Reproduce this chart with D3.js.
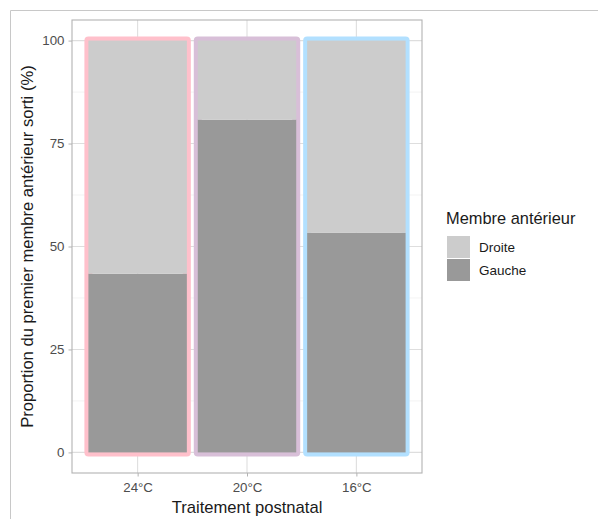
<!DOCTYPE html>
<html><head><meta charset="utf-8">
<script src="https://cdn.jsdelivr.net/npm/d3@7"></script>
<style>body{margin:0;background:#fff}svg{display:block;font-family:"Liberation Sans",Arial,sans-serif}</style>
</head><body><svg id="c" width="598" height="519"></svg>
<script>
const categories = ["24°C", "20°C", "16°C"];
const gauche = [43.4, 80.8, 53.3];
const droite = [56.6, 19.2, 46.7];
const outlineColors = ["#FFC0CB", "#D8BFD8", "#B2E0FF"];
const yTicks = [0, 25, 50, 75, 100];
const yMinor = [12.5, 37.5, 62.5, 87.5];
const legendLabels = ["Droite", "Gauche"];
const fillColors = {Droite: "#CCCCCC", Gauche: "#999999"};

const svg = d3.select("#c");
// outer frame
svg.append("line").attr("x1",10.5).attr("x2",598).attr("y1",10.5).attr("y2",10.5).attr("stroke","#c8c8c8");
svg.append("line").attr("x1",10.5).attr("x2",10.5).attr("y1",10.5).attr("y2",519).attr("stroke","#c8c8c8");

const pL = 72, pR = 422, pT = 20, pB = 473;
const x = d3.scalePoint().domain(categories).range([pL, pR]).padding(0.6);
const step = x.step();
const bw = step * 0.9;
const y = d3.scaleLinear().domain([-5, 105]).range([pB, pT]);

const g = svg.append("g");
// grid
yMinor.forEach(v => g.append("line").attr("x1",pL).attr("x2",pR).attr("y1",y(v)).attr("y2",y(v)).attr("stroke","#EBEBEB").attr("stroke-width",0.6));
yTicks.forEach(v => g.append("line").attr("x1",pL).attr("x2",pR).attr("y1",y(v)).attr("y2",y(v)).attr("stroke","#DEDEDE").attr("stroke-width",1.1));
categories.forEach(c => g.append("line").attr("x1",x(c)).attr("x2",x(c)).attr("y1",pT).attr("y2",pB).attr("stroke","#DEDEDE").attr("stroke-width",1.1));

// outlines
categories.forEach((c,i) => {
  g.append("rect").attr("x", x(c)-bw/2).attr("y", y(100)).attr("width", bw).attr("height", y(0)-y(100))
   .attr("fill","none").attr("stroke", outlineColors[i]).attr("stroke-width", 8).attr("stroke-linejoin","round");
});
// stacked bars
categories.forEach((c,i) => {
  g.append("rect").attr("x", x(c)-bw/2).attr("y", y(gauche[i])).attr("width", bw).attr("height", y(0)-y(gauche[i])).attr("fill", fillColors.Gauche);
  g.append("rect").attr("x", x(c)-bw/2).attr("y", y(gauche[i]+droite[i])).attr("width", bw).attr("height", y(gauche[i])-y(gauche[i]+droite[i])).attr("fill", fillColors.Droite);
});

// panel border
g.append("rect").attr("x",pL).attr("y",pT).attr("width",pR-pL).attr("height",pB-pT).attr("fill","none").attr("stroke","#B3B3B3").attr("stroke-width",1.1);

// axes
const yAxis = d3.axisLeft(y).tickValues(yTicks).tickSize(3.5).tickPadding(4);
const ya = svg.append("g").attr("transform",`translate(${pL},0)`).call(yAxis);
ya.select(".domain").remove();
ya.selectAll("line").attr("stroke","#B3B3B3");
ya.selectAll("text").attr("fill","#4D4D4D").style("font-size","13.3px").attr("font-family","Liberation Sans, Arial, sans-serif");

const xAxis = d3.axisBottom(x).tickSize(3.5).tickPadding(6);
const xa = svg.append("g").attr("transform",`translate(0,${pB})`).call(xAxis);
xa.select(".domain").remove();
xa.selectAll("line").attr("stroke","#B3B3B3");
xa.selectAll("text").attr("fill","#4D4D4D").style("font-size","13.3px").attr("font-family","Liberation Sans, Arial, sans-serif");

// titles
svg.append("text").attr("x",(pL+pR)/2).attr("y",513).attr("text-anchor","middle").style("font-size","16.6px").attr("fill","#1a1a1a").text("Traitement postnatal");
svg.append("text").attr("transform",`translate(33,${(pT+pB)/2}) rotate(-90)`).attr("text-anchor","middle").style("font-size","16.6px").attr("fill","#1a1a1a").text("Proportion du premier membre antérieur sorti (%)");

// legend
const lg = svg.append("g");
lg.append("text").attr("x",446).attr("y",224).style("font-size","16.4px").attr("fill","#1a1a1a").text("Membre antérieur");
legendLabels.forEach((l,i) => {
  const ky = 236 + i*23;
  lg.append("rect").attr("x",447).attr("y",ky).attr("width",23).attr("height",22).attr("fill",fillColors[l]);
  lg.append("text").attr("x",479).attr("y",ky+16).style("font-size","13.5px").attr("fill","#1a1a1a").text(l);
});
</script></body></html>
